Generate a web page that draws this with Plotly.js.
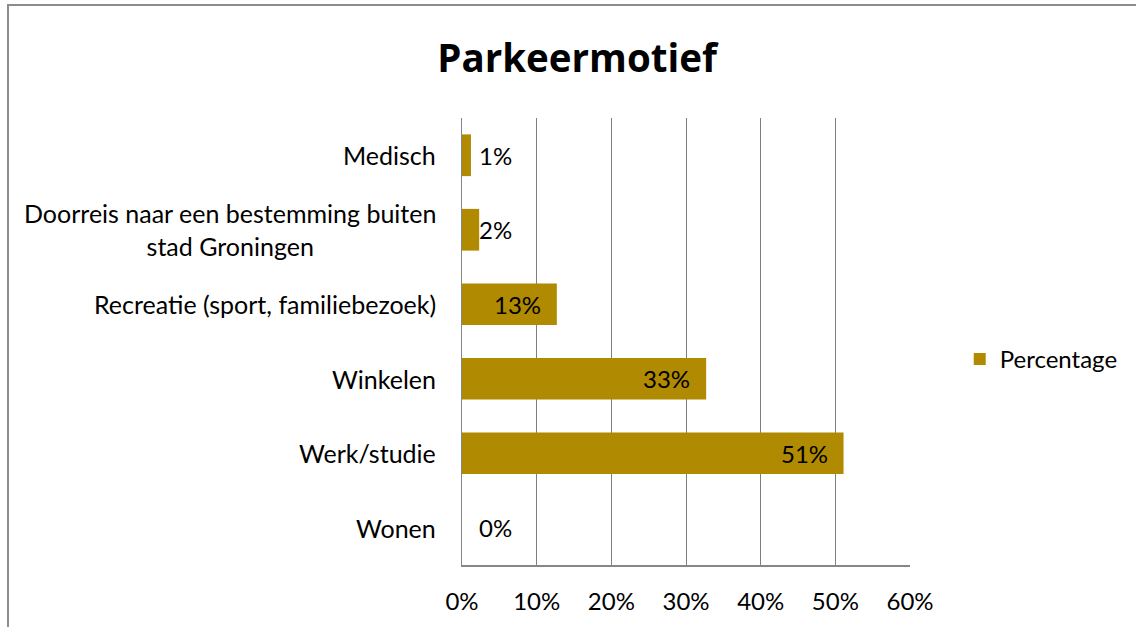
<!DOCTYPE html>
<html>
<head>
<meta charset="utf-8">
<script src="https://cdn.plot.ly/plotly-3.0.1.min.js"></script>
<style>
  html, body { margin: 0; padding: 0; background: #fff; }
  #wrap { position: relative; width: 1136px; height: 627px; overflow: hidden; }
  #chart { position: absolute; left: 0; top: 0; width: 1136px; height: 627px; }
  #frame { position: absolute; left: 7px; top: 4px; width: 1140px; height: 640px;
           border-left: 2px solid #8c8c8c; border-top: 2px solid #8c8c8c; pointer-events: none; }
</style>
</head>
<body>
<div id="wrap"><div id="chart"></div><div id="frame"></div></div>
<script>
// Data (bottom to top as drawn by the category axis)
const categories = ["Wonen", "Werk/studie", "Winkelen", "Recreatie (sport, familiebezoek)", "Doorreis naar een bestemming buiten<br>stad Groningen", "Medisch"];
const percentages = [0, 51.1, 32.7, 12.7, 2.3, 1.2];
const valueLabels = ["0%", "51%", "33%", "13%", "2%", "1%"];
const xTickValues = [0, 10, 20, 30, 40, 50, 60];
const xTickLabels = ["0%", "10%", "20%", "30%", "40%", "50%", "60%"];
const seriesName = "Percentage";

const FONT = "Lato, Calibri, 'Liberation Sans', sans-serif";
const TITLE_FONT = "'Open Sans', Calibri, sans-serif";
const barColor = "#B08A00";
const FS = 24;

const trace = {
  type: "bar",
  orientation: "h",
  y: categories,
  x: percentages,
  name: seriesName,
  width: 0.56,
  marker: { color: barColor, line: { width: 0 } },
  hoverinfo: "skip",
  showlegend: true
};

// category labels (centered multi-line, right anchored at axis)
const catAnnotations = categories.map((c, i) => ({
  xref: "paper", yref: "y", x: 0, y: c, xanchor: "right", yanchor: "middle",
  xshift: -24, text: c, showarrow: false, align: "center",
  font: { family: FONT, size: 25, color: "#000" }
}));

// value labels
const valAnnotations = categories.map((c, i) => {
  const v = percentages[i];
  const inside = v >= 5;
  return {
    xref: "x", yref: "y", x: inside ? v : 0, y: c,
    xanchor: inside ? "right" : "left", yanchor: "middle",
    xshift: inside ? -14 : 15, text: valueLabels[i], showarrow: false,
    font: { family: FONT, size: FS, color: "#000" }
  };
});

const layout = {
  width: 1136, height: 627,
  margin: { l: 462, r: 226, t: 118, b: 62, pad: 0 },
  paper_bgcolor: "#fff", plot_bgcolor: "#fff",
  title: { text: "<b>Parkeermotief</b>", x: 0.508, xanchor: "center", y: 0.907, yanchor: "middle",
           font: { family: TITLE_FONT, size: 38.5, color: "#000" } },
  xaxis: {
    range: [0, 60], tickvals: xTickValues, ticktext: xTickLabels,
    showgrid: true, gridcolor: "#7f7f7f", gridwidth: 1,
    showline: true, linecolor: "#868686", linewidth: 1.5,
    ticks: "", ticklabelstandoff: 15, zeroline: false,
    tickfont: { family: FONT, size: FS, color: "#000" }, fixedrange: true
  },
  yaxis: {
    type: "category", showticklabels: false, showgrid: false,
    showline: true, linecolor: "#868686", linewidth: 1.5, ticks: "",
    zeroline: false, fixedrange: true, range: [-0.5, 5.5]
  },
  legend: {
    x: 1.111, xanchor: "left", y: 0.46, yanchor: "middle",
    font: { family: FONT, size: FS, color: "#000" }, bgcolor: "rgba(0,0,0,0)",
    itemwidth: 30
  },
  annotations: catAnnotations.concat(valAnnotations),
  showlegend: true
};

Plotly.newPlot("chart", [trace], layout, { displayModeBar: false, staticPlot: true });
</script>
</body>
</html>
